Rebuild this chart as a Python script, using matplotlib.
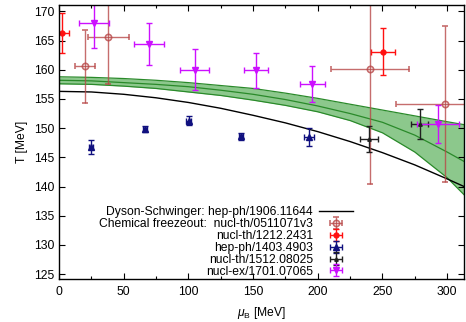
import matplotlib
matplotlib.use('Agg')
import matplotlib.pyplot as plt
import numpy as np

plt.rcParams['font.family'] = ['Liberation Sans', 'DejaVu Sans']
plt.rcParams['mathtext.fontset'] = 'custom'
plt.rcParams['mathtext.rm'] = 'Liberation Sans'
plt.rcParams['mathtext.it'] = 'Liberation Sans:italic'

# Dyson-Schwinger curve
ds_mu = [0, 25, 50, 75, 100, 125, 150, 175, 200, 225, 250, 275, 300, 313]
ds_T = [156.3, 156.2, 155.8, 155.2, 154.4, 153.4, 152.2, 150.9, 149.4, 147.7,
        145.8, 143.7, 141.3, 140.0]

# green band (lower / centre / upper)
band_mu = [0, 25, 50, 75, 100, 125, 150, 175, 200, 225, 250, 275, 300, 313]
band_lo = [157.6, 157.5, 157.2, 156.8, 156.2, 155.6, 154.8, 153.9, 152.8, 151.3,
           149.2, 145.9, 141.5, 138.6]
band_mid = [158.2, 158.1, 157.8, 157.5, 157.1, 156.5, 155.8, 154.9, 153.8, 152.5,
            151.0, 148.8, 145.9, 144.3]
band_hi = [158.8, 158.7, 158.5, 158.2, 157.8, 157.3, 156.8, 156.0, 155.1, 154.1,
           153.1, 152.1, 151.1, 150.6]

# nucl-th/0511071v3
a_mu = [20.1, 38.2, 240.3, 298.6]
a_T = [160.6, 165.7, 160.1, 154.1]
a_dmu = [8.0, 15.7, 30.0, 38.0]
a_dT = [6.3, 8.2, 19.7, 13.4]

# nucl-th/1212.2431
b_mu = [2.0, 250.4]
b_T = [166.3, 163.1]
b_dmu = [6.0, 9.0]
b_dT = [3.5, 4.0]

# hep-ph/1403.4903
c_mu = [24.5, 66.5, 100.2, 140.6, 193.2]
c_T = [146.8, 149.9, 151.3, 148.6, 148.5]
c_dmu = [1.5, 1.5, 2.0, 1.5, 3.8]
c_dT = [1.2, 0.5, 0.8, 0.6, 1.5]

# nucl-th/1512.08025
d_mu = [239.6, 278.7]
d_T = [148.1, 150.7]
d_dmu = [6.9, 6.6]
d_dT = [2.2, 2.5]

# nucl-ex/1701.07065
e_mu = [27.0, 69.3, 104.9, 152.2, 195.8, 292.9]
e_T = [168.0, 164.5, 160.0, 159.9, 157.6, 150.7]
e_dmu = [11.6, 11.7, 11.3, 9.0, 9.7, 16.0]
e_dT = [4.3, 3.6, 3.5, 3.0, 3.1, 3.2]

fig = plt.figure(figsize=(4.66, 3.22), dpi=100)
ax = fig.add_axes([59 / 466, 1 - 279.3 / 322, 405 / 466, 274.3 / 322])

ax.fill_between(band_mu, band_lo, band_hi, color='#8cc88c', lw=0)
ax.plot(band_mu, band_lo, color='#2a8a2a', lw=0.9)
ax.plot(band_mu, band_mid, color='#2a8a2a', lw=0.9)
ax.plot(band_mu, band_hi, color='#2a8a2a', lw=0.9)

h_ds, = ax.plot(ds_mu, ds_T, color='black', lw=1.0)

kw = dict(ls='none', elinewidth=1.0, capsize=2.0, capthick=1.0)
h_a = ax.errorbar(a_mu, a_T, xerr=a_dmu, yerr=a_dT, color='#b84848', alpha=0.8,
                  marker='o', ms=4.5, mfc='none', mew=1.2, **kw)
h_b = ax.errorbar(b_mu, b_T, xerr=b_dmu, yerr=b_dT, color='#ff1010',
                  marker='o', ms=3.5, **kw)
h_c = ax.errorbar(c_mu, c_T, xerr=c_dmu, yerr=c_dT, color='#10107f',
                  marker='^', ms=4.5, **kw)
h_d = ax.errorbar(d_mu, d_T, xerr=d_dmu, yerr=d_dT, color='#202020',
                  marker='^', ms=2.5, **kw)
h_e = ax.errorbar(e_mu, e_T, xerr=e_dmu, yerr=e_dT, color='#cc10ff',
                  marker='v', ms=4.5, **kw)

ax.set_xlim(0, 313)
ax.set_ylim(124.1, 171.1)
ax.set_xticks(np.arange(0, 301, 50))
ax.set_xticks(np.arange(25, 313, 50), minor=True)
ax.set_yticks(np.arange(125, 171, 5))
ax.tick_params(which='both', direction='in', top=True, right=True, labelsize=8.7)
ax.tick_params(which='major', length=4, width=0.8)
ax.tick_params(axis='x', pad=5)
ax.tick_params(which='minor', length=2.5, width=0.8)
for s in ax.spines.values():
    s.set_linewidth(1.0)

ax.set_xlabel(r'$\mu_\mathrm{B}$ [MeV]', fontsize=8.7, labelpad=5)
ax.set_ylabel('T [MeV]', fontsize=8.7, labelpad=4)

leg = ax.legend([h_ds, h_a, h_b, h_c, h_d, h_e],
                ['Dyson-Schwinger: hep-ph/1906.11644',
                 'Chemical freezeout:  nucl-th/0511071v3',
                 'nucl-th/1212.2431', 'hep-ph/1403.4903',
                 'nucl-th/1512.08025', 'nucl-ex/1701.07065'],
                loc='lower right', bbox_to_anchor=(0.726, 0.006),
                markerfirst=False, frameon=False, fontsize=8.75,
                borderpad=0, borderaxespad=0, handlelength=2.8,
                handletextpad=0.5, labelspacing=-0.01)

fig.savefig('out.png', dpi=100)
